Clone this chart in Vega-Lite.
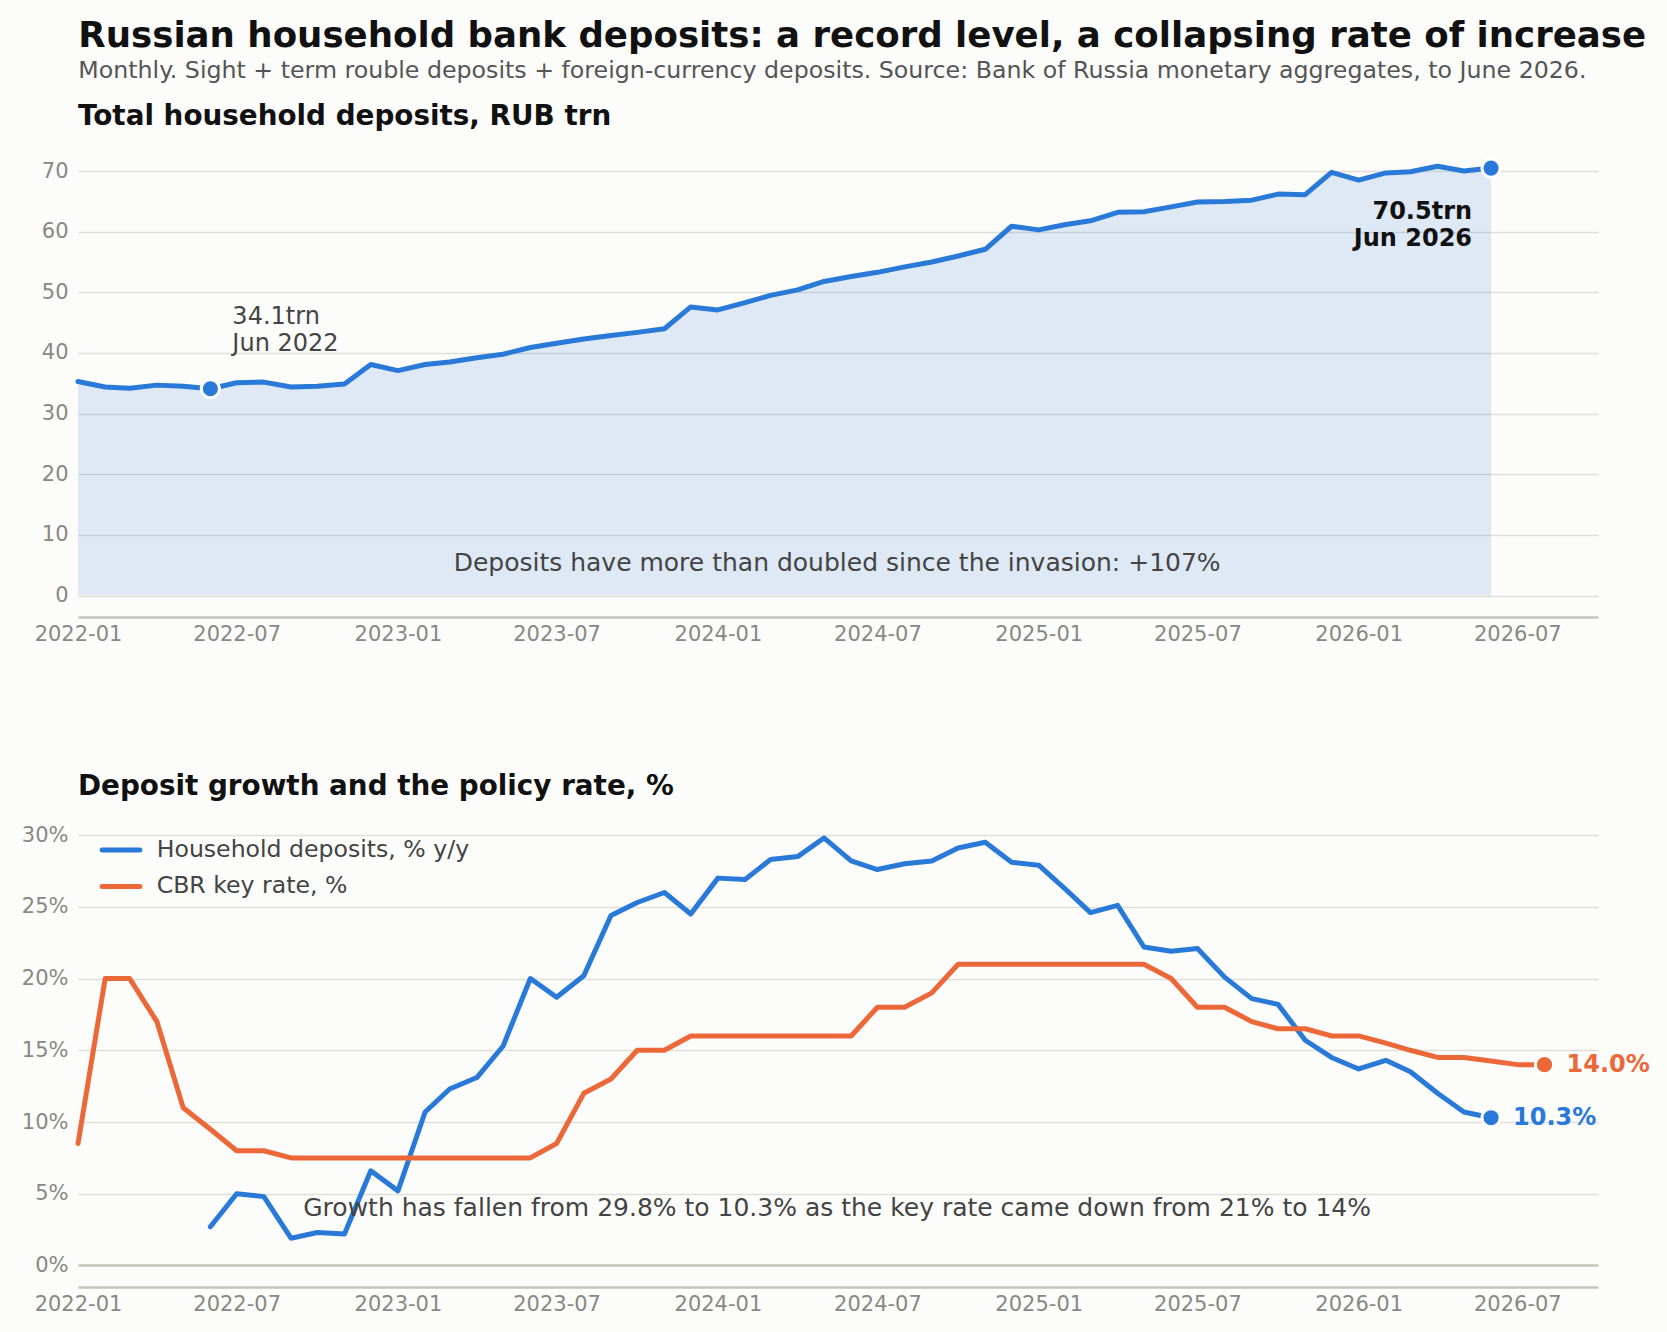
{
  "$schema": "https://vega.github.io/schema/vega-lite/v6.json",
  "background": "#fcfcfa",
  "padding": {"left": 21, "right": 20, "top": 18, "bottom": 20},
  "title": {
    "text": "Russian household bank deposits: a record level, a collapsing rate of increase",
    "subtitle": "Monthly. Sight + term rouble deposits + foreign-currency deposits. Source: Bank of Russia monetary aggregates, to June 2026.",
    "anchor": "start",
    "dx": 57,
    "fontSize": 35.6,
    "fontWeight": "bold",
    "color": "#111111",
    "subtitleFontSize": 23.7,
    "subtitleColor": "#555555",
    "subtitlePadding": 4,
    "offset": 21
  },
  "resolve": {"legend": {"color": "independent"}, "scale": {"color": "independent"}},
  "datasets": {
    "deposits": [
      {"date": "2022-01", "value": 35.3}, {"date": "2022-02", "value": 34.4}, {"date": "2022-03", "value": 34.2},
      {"date": "2022-04", "value": 34.7}, {"date": "2022-05", "value": 34.5}, {"date": "2022-06", "value": 34.1},
      {"date": "2022-07", "value": 35.1}, {"date": "2022-08", "value": 35.2}, {"date": "2022-09", "value": 34.4},
      {"date": "2022-10", "value": 34.5}, {"date": "2022-11", "value": 34.9}, {"date": "2022-12", "value": 38.1},
      {"date": "2023-01", "value": 37.1}, {"date": "2023-02", "value": 38.1}, {"date": "2023-03", "value": 38.5},
      {"date": "2023-04", "value": 39.2}, {"date": "2023-05", "value": 39.8}, {"date": "2023-06", "value": 40.9},
      {"date": "2023-07", "value": 41.6}, {"date": "2023-08", "value": 42.3}, {"date": "2023-09", "value": 42.9},
      {"date": "2023-10", "value": 43.4}, {"date": "2023-11", "value": 44.0}, {"date": "2023-12", "value": 47.6},
      {"date": "2024-01", "value": 47.1}, {"date": "2024-02", "value": 48.3}, {"date": "2024-03", "value": 49.5},
      {"date": "2024-04", "value": 50.4}, {"date": "2024-05", "value": 51.8}, {"date": "2024-06", "value": 52.6},
      {"date": "2024-07", "value": 53.3}, {"date": "2024-08", "value": 54.2}, {"date": "2024-09", "value": 55.0},
      {"date": "2024-10", "value": 56.0}, {"date": "2024-11", "value": 57.1}, {"date": "2024-12", "value": 60.9},
      {"date": "2025-01", "value": 60.3}, {"date": "2025-02", "value": 61.2}, {"date": "2025-03", "value": 61.8},
      {"date": "2025-04", "value": 63.2}, {"date": "2025-05", "value": 63.3}, {"date": "2025-06", "value": 64.1},
      {"date": "2025-07", "value": 64.9}, {"date": "2025-08", "value": 65.0}, {"date": "2025-09", "value": 65.2},
      {"date": "2025-10", "value": 66.2}, {"date": "2025-11", "value": 66.1}, {"date": "2025-12", "value": 69.8},
      {"date": "2026-01", "value": 68.5}, {"date": "2026-02", "value": 69.7}, {"date": "2026-03", "value": 69.9},
      {"date": "2026-04", "value": 70.8}, {"date": "2026-05", "value": 70.0}, {"date": "2026-06", "value": 70.5}
    ],
    "growth": [
      {"date": "2022-06", "series": "Household deposits, % y/y", "value": 2.7},
      {"date": "2022-07", "series": "Household deposits, % y/y", "value": 5.0},
      {"date": "2022-08", "series": "Household deposits, % y/y", "value": 4.8},
      {"date": "2022-09", "series": "Household deposits, % y/y", "value": 1.9},
      {"date": "2022-10", "series": "Household deposits, % y/y", "value": 2.3},
      {"date": "2022-11", "series": "Household deposits, % y/y", "value": 2.2},
      {"date": "2022-12", "series": "Household deposits, % y/y", "value": 6.6},
      {"date": "2023-01", "series": "Household deposits, % y/y", "value": 5.2},
      {"date": "2023-02", "series": "Household deposits, % y/y", "value": 10.7},
      {"date": "2023-03", "series": "Household deposits, % y/y", "value": 12.3},
      {"date": "2023-04", "series": "Household deposits, % y/y", "value": 13.1},
      {"date": "2023-05", "series": "Household deposits, % y/y", "value": 15.3},
      {"date": "2023-06", "series": "Household deposits, % y/y", "value": 20.0},
      {"date": "2023-07", "series": "Household deposits, % y/y", "value": 18.7},
      {"date": "2023-08", "series": "Household deposits, % y/y", "value": 20.2},
      {"date": "2023-09", "series": "Household deposits, % y/y", "value": 24.4},
      {"date": "2023-10", "series": "Household deposits, % y/y", "value": 25.3},
      {"date": "2023-11", "series": "Household deposits, % y/y", "value": 26.0},
      {"date": "2023-12", "series": "Household deposits, % y/y", "value": 24.5},
      {"date": "2024-01", "series": "Household deposits, % y/y", "value": 27.0},
      {"date": "2024-02", "series": "Household deposits, % y/y", "value": 26.9},
      {"date": "2024-03", "series": "Household deposits, % y/y", "value": 28.3},
      {"date": "2024-04", "series": "Household deposits, % y/y", "value": 28.5},
      {"date": "2024-05", "series": "Household deposits, % y/y", "value": 29.8},
      {"date": "2024-06", "series": "Household deposits, % y/y", "value": 28.2},
      {"date": "2024-07", "series": "Household deposits, % y/y", "value": 27.6},
      {"date": "2024-08", "series": "Household deposits, % y/y", "value": 28.0},
      {"date": "2024-09", "series": "Household deposits, % y/y", "value": 28.2},
      {"date": "2024-10", "series": "Household deposits, % y/y", "value": 29.1},
      {"date": "2024-11", "series": "Household deposits, % y/y", "value": 29.5},
      {"date": "2024-12", "series": "Household deposits, % y/y", "value": 28.1},
      {"date": "2025-01", "series": "Household deposits, % y/y", "value": 27.9},
      {"date": "2025-02", "series": "Household deposits, % y/y", "value": 26.2},
      {"date": "2025-03", "series": "Household deposits, % y/y", "value": 24.6},
      {"date": "2025-04", "series": "Household deposits, % y/y", "value": 25.1},
      {"date": "2025-05", "series": "Household deposits, % y/y", "value": 22.2},
      {"date": "2025-06", "series": "Household deposits, % y/y", "value": 21.9},
      {"date": "2025-07", "series": "Household deposits, % y/y", "value": 22.1},
      {"date": "2025-08", "series": "Household deposits, % y/y", "value": 20.1},
      {"date": "2025-09", "series": "Household deposits, % y/y", "value": 18.6},
      {"date": "2025-10", "series": "Household deposits, % y/y", "value": 18.2},
      {"date": "2025-11", "series": "Household deposits, % y/y", "value": 15.7},
      {"date": "2025-12", "series": "Household deposits, % y/y", "value": 14.5},
      {"date": "2026-01", "series": "Household deposits, % y/y", "value": 13.7},
      {"date": "2026-02", "series": "Household deposits, % y/y", "value": 14.3},
      {"date": "2026-03", "series": "Household deposits, % y/y", "value": 13.5},
      {"date": "2026-04", "series": "Household deposits, % y/y", "value": 12.0},
      {"date": "2026-05", "series": "Household deposits, % y/y", "value": 10.7},
      {"date": "2026-06", "series": "Household deposits, % y/y", "value": 10.3},
      {"date": "2022-01", "series": "CBR key rate, %", "value": 8.5},
      {"date": "2022-02", "series": "CBR key rate, %", "value": 20},
      {"date": "2022-03", "series": "CBR key rate, %", "value": 20},
      {"date": "2022-04", "series": "CBR key rate, %", "value": 17},
      {"date": "2022-05", "series": "CBR key rate, %", "value": 11},
      {"date": "2022-06", "series": "CBR key rate, %", "value": 9.5},
      {"date": "2022-07", "series": "CBR key rate, %", "value": 8},
      {"date": "2022-08", "series": "CBR key rate, %", "value": 8},
      {"date": "2022-09", "series": "CBR key rate, %", "value": 7.5},
      {"date": "2022-10", "series": "CBR key rate, %", "value": 7.5},
      {"date": "2022-11", "series": "CBR key rate, %", "value": 7.5},
      {"date": "2022-12", "series": "CBR key rate, %", "value": 7.5},
      {"date": "2023-01", "series": "CBR key rate, %", "value": 7.5},
      {"date": "2023-02", "series": "CBR key rate, %", "value": 7.5},
      {"date": "2023-03", "series": "CBR key rate, %", "value": 7.5},
      {"date": "2023-04", "series": "CBR key rate, %", "value": 7.5},
      {"date": "2023-05", "series": "CBR key rate, %", "value": 7.5},
      {"date": "2023-06", "series": "CBR key rate, %", "value": 7.5},
      {"date": "2023-07", "series": "CBR key rate, %", "value": 8.5},
      {"date": "2023-08", "series": "CBR key rate, %", "value": 12},
      {"date": "2023-09", "series": "CBR key rate, %", "value": 13},
      {"date": "2023-10", "series": "CBR key rate, %", "value": 15},
      {"date": "2023-11", "series": "CBR key rate, %", "value": 15},
      {"date": "2023-12", "series": "CBR key rate, %", "value": 16},
      {"date": "2024-01", "series": "CBR key rate, %", "value": 16},
      {"date": "2024-02", "series": "CBR key rate, %", "value": 16},
      {"date": "2024-03", "series": "CBR key rate, %", "value": 16},
      {"date": "2024-04", "series": "CBR key rate, %", "value": 16},
      {"date": "2024-05", "series": "CBR key rate, %", "value": 16},
      {"date": "2024-06", "series": "CBR key rate, %", "value": 16},
      {"date": "2024-07", "series": "CBR key rate, %", "value": 18},
      {"date": "2024-08", "series": "CBR key rate, %", "value": 18},
      {"date": "2024-09", "series": "CBR key rate, %", "value": 19},
      {"date": "2024-10", "series": "CBR key rate, %", "value": 21},
      {"date": "2024-11", "series": "CBR key rate, %", "value": 21},
      {"date": "2024-12", "series": "CBR key rate, %", "value": 21},
      {"date": "2025-01", "series": "CBR key rate, %", "value": 21},
      {"date": "2025-02", "series": "CBR key rate, %", "value": 21},
      {"date": "2025-03", "series": "CBR key rate, %", "value": 21},
      {"date": "2025-04", "series": "CBR key rate, %", "value": 21},
      {"date": "2025-05", "series": "CBR key rate, %", "value": 21},
      {"date": "2025-06", "series": "CBR key rate, %", "value": 20},
      {"date": "2025-07", "series": "CBR key rate, %", "value": 18},
      {"date": "2025-08", "series": "CBR key rate, %", "value": 18},
      {"date": "2025-09", "series": "CBR key rate, %", "value": 17},
      {"date": "2025-10", "series": "CBR key rate, %", "value": 16.5},
      {"date": "2025-11", "series": "CBR key rate, %", "value": 16.5},
      {"date": "2025-12", "series": "CBR key rate, %", "value": 16},
      {"date": "2026-01", "series": "CBR key rate, %", "value": 16},
      {"date": "2026-02", "series": "CBR key rate, %", "value": 15.5},
      {"date": "2026-03", "series": "CBR key rate, %", "value": 15},
      {"date": "2026-04", "series": "CBR key rate, %", "value": 14.5},
      {"date": "2026-05", "series": "CBR key rate, %", "value": 14.5},
      {"date": "2026-06", "series": "CBR key rate, %", "value": 14.25},
      {"date": "2026-07", "series": "CBR key rate, %", "value": 14},
      {"date": "2026-08", "series": "CBR key rate, %", "value": 14}
    ]
  },
  "spacing": 129,
  "vconcat": [
    {
      "width": 1520,
      "height": 472,
      "title": {
        "text": "Total household deposits, RUB trn",
        "anchor": "start",
        "frame": "group",
        "fontSize": 27.8,
        "fontWeight": "bold",
        "color": "#111111",
        "offset": 14
      },
      "data": {"name": "deposits"},
      "encoding": {
        "x": {
          "field": "date",
          "type": "temporal",
          "scale": {
            "type": "utc",
            "domain": [
              {"year": 2022, "month": 1, "date": 1, "utc": true},
              {"year": 2026, "month": 10, "date": 1, "utc": true}
            ]
          },
          "axis": {"format": "%Y-%m", "tickCount": {"interval": "month", "step": 6}}
        },
        "y": {
          "field": "value",
          "type": "quantitative",
          "scale": {"domain": [-3.54, 74.3], "nice": false, "zero": false},
          "axis": {"values": [0, 10, 20, 30, 40, 50, 60, 70]}
        }
      },
      "layer": [
        {
          "mark": {"type": "area", "color": "#2979d9", "opacity": 0.14},
          "encoding": {"y2": {"datum": 0}}
        },
        {
          "mark": {"type": "line", "color": "#2979d9", "strokeWidth": 5, "strokeJoin": "round", "strokeCap": "round"}
        },
        {
          "transform": [{"filter": "(utcyear(datum.date) == 2022 && utcmonth(datum.date) == 5) || (utcyear(datum.date) == 2026 && utcmonth(datum.date) == 5)"}],
          "mark": {"type": "point", "filled": true, "color": "#2979d9", "size": 330, "opacity": 1, "stroke": "#ffffff", "strokeWidth": 3}
        },
        {
          "transform": [{"filter": "utcyear(datum.date) == 2022 && utcmonth(datum.date) == 5"}],
          "mark": {"type": "text", "align": "left", "baseline": "alphabetic", "dx": 22, "dy": -65, "fontSize": 24, "color": "#444444", "lineHeight": 27},
          "encoding": {"text": {"value": ["34.1trn", "Jun 2022"]}}
        },
        {
          "transform": [{"filter": "utcyear(datum.date) == 2026 && utcmonth(datum.date) == 5"}],
          "mark": {"type": "text", "align": "right", "baseline": "alphabetic", "dx": -19, "dy": 51, "fontSize": 24, "fontWeight": "bold", "color": "#111111", "lineHeight": 27},
          "encoding": {"text": {"value": ["70.5trn", "Jun 2026"]}}
        },
        {
          "data": {"values": [{"date": "2024-05-16", "value": 5.3, "note": "Deposits have more than doubled since the invasion: +107%"}]},
          "mark": {"type": "text", "align": "center", "baseline": "middle", "fontSize": 25, "color": "#444444"},
          "encoding": {"text": {"field": "note"}}
        }
      ]
    },
    {
      "width": 1520,
      "height": 472,
      "title": {
        "text": "Deposit growth and the policy rate, %",
        "anchor": "start",
        "frame": "group",
        "fontSize": 27.8,
        "fontWeight": "bold",
        "color": "#111111",
        "offset": 14
      },
      "data": {"name": "growth"},
      "encoding": {
        "x": {
          "field": "date",
          "type": "temporal",
          "scale": {
            "type": "utc",
            "domain": [
              {"year": 2022, "month": 1, "date": 1, "utc": true},
              {"year": 2026, "month": 10, "date": 1, "utc": true}
            ]
          },
          "axis": {"format": "%Y-%m", "tickCount": {"interval": "month", "step": 6}}
        },
        "y": {
          "field": "value",
          "type": "quantitative",
          "scale": {"domain": [-1.5, 31.4], "nice": false, "zero": false},
          "axis": {
            "values": [0, 5, 10, 15, 20, 25, 30],
            "labelExpr": "datum.value + '%'",
            "gridColor": {"condition": {"test": "datum.value === 0", "value": "#c4c4b8"}, "value": "#dfdfd8"},
            "gridWidth": {"condition": {"test": "datum.value === 0", "value": 2.5}, "value": 1.5}
          }
        }
      },
      "layer": [
        {
          "mark": {"type": "line", "strokeWidth": 5, "strokeJoin": "round", "strokeCap": "round"},
          "encoding": {
            "color": {
              "field": "series",
              "type": "nominal",
              "scale": {
                "domain": ["Household deposits, % y/y", "CBR key rate, %"],
                "range": ["#2979d9", "#ec6838"]
              },
              "legend": {
                "orient": "top-left",
                "title": null,
                "symbolType": "M-1.8,0H1.8",
                "symbolStrokeWidth": 5,
                "symbolSize": 441,
                "labelFontSize": 23.6,
                "labelColor": "#444444",
                "offset": 22,
                "padding": 0,
                "symbolOffset": 8,
                "rowPadding": 11.4,
                "labelOffset": 22.7,
                "labelLimit": 600,
                "encode": {"symbols": {"update": {"strokeCap": {"value": "round"}}}}
              }
            }
          }
        },
        {
          "transform": [{"filter": "datum.series == 'Household deposits, % y/y' && utcyear(datum.date) == 2026 && utcmonth(datum.date) == 5"}],
          "mark": {"type": "point", "filled": true, "color": "#2979d9", "size": 330, "opacity": 1, "stroke": "#ffffff", "strokeWidth": 3}
        },
        {
          "transform": [{"filter": "datum.series == 'CBR key rate, %' && utcyear(datum.date) == 2026 && utcmonth(datum.date) == 7"}],
          "mark": {"type": "point", "filled": true, "color": "#ec6838", "size": 330, "opacity": 1, "stroke": "#ffffff", "strokeWidth": 3}
        },
        {
          "transform": [{"filter": "datum.series == 'Household deposits, % y/y' && utcyear(datum.date) == 2026 && utcmonth(datum.date) == 5"}],
          "mark": {"type": "text", "align": "left", "baseline": "middle", "dx": 22, "fontSize": 24, "fontWeight": "bold", "color": "#2979d9"},
          "encoding": {"text": {"value": "10.3%"}}
        },
        {
          "transform": [{"filter": "datum.series == 'CBR key rate, %' && utcyear(datum.date) == 2026 && utcmonth(datum.date) == 7"}],
          "mark": {"type": "text", "align": "left", "baseline": "middle", "dx": 22, "fontSize": 24, "fontWeight": "bold", "color": "#ec6838"},
          "encoding": {"text": {"value": "14.0%"}}
        },
        {
          "data": {"values": [{"date": "2024-05-16", "value": 4.0, "note": "Growth has fallen from 29.8% to 10.3% as the key rate came down from 21% to 14%"}]},
          "mark": {"type": "text", "align": "center", "baseline": "middle", "fontSize": 25, "color": "#444444"},
          "encoding": {"text": {"field": "note"}}
        }
      ]
    }
  ],
  "config": {
    "font": "DejaVu Sans",
    "view": {"stroke": null},
    "axis": {
      "title": null,
      "labelFont": "DejaVu Sans",
      "labelFontSize": 21,
      "labelColor": "#888884",
      "ticks": false,
      "domain": false,
      "gridColor": "#dfdfd8",
      "gridWidth": 1.5
    },
    "axisX": {
      "grid": false,
      "domain": true,
      "domainColor": "#c4c4bc",
      "domainWidth": 2.5,
      "labelPadding": 6,
      "labelFlush": false
    },
    "axisY": {"grid": true, "labelPadding": 10}
  }
}
